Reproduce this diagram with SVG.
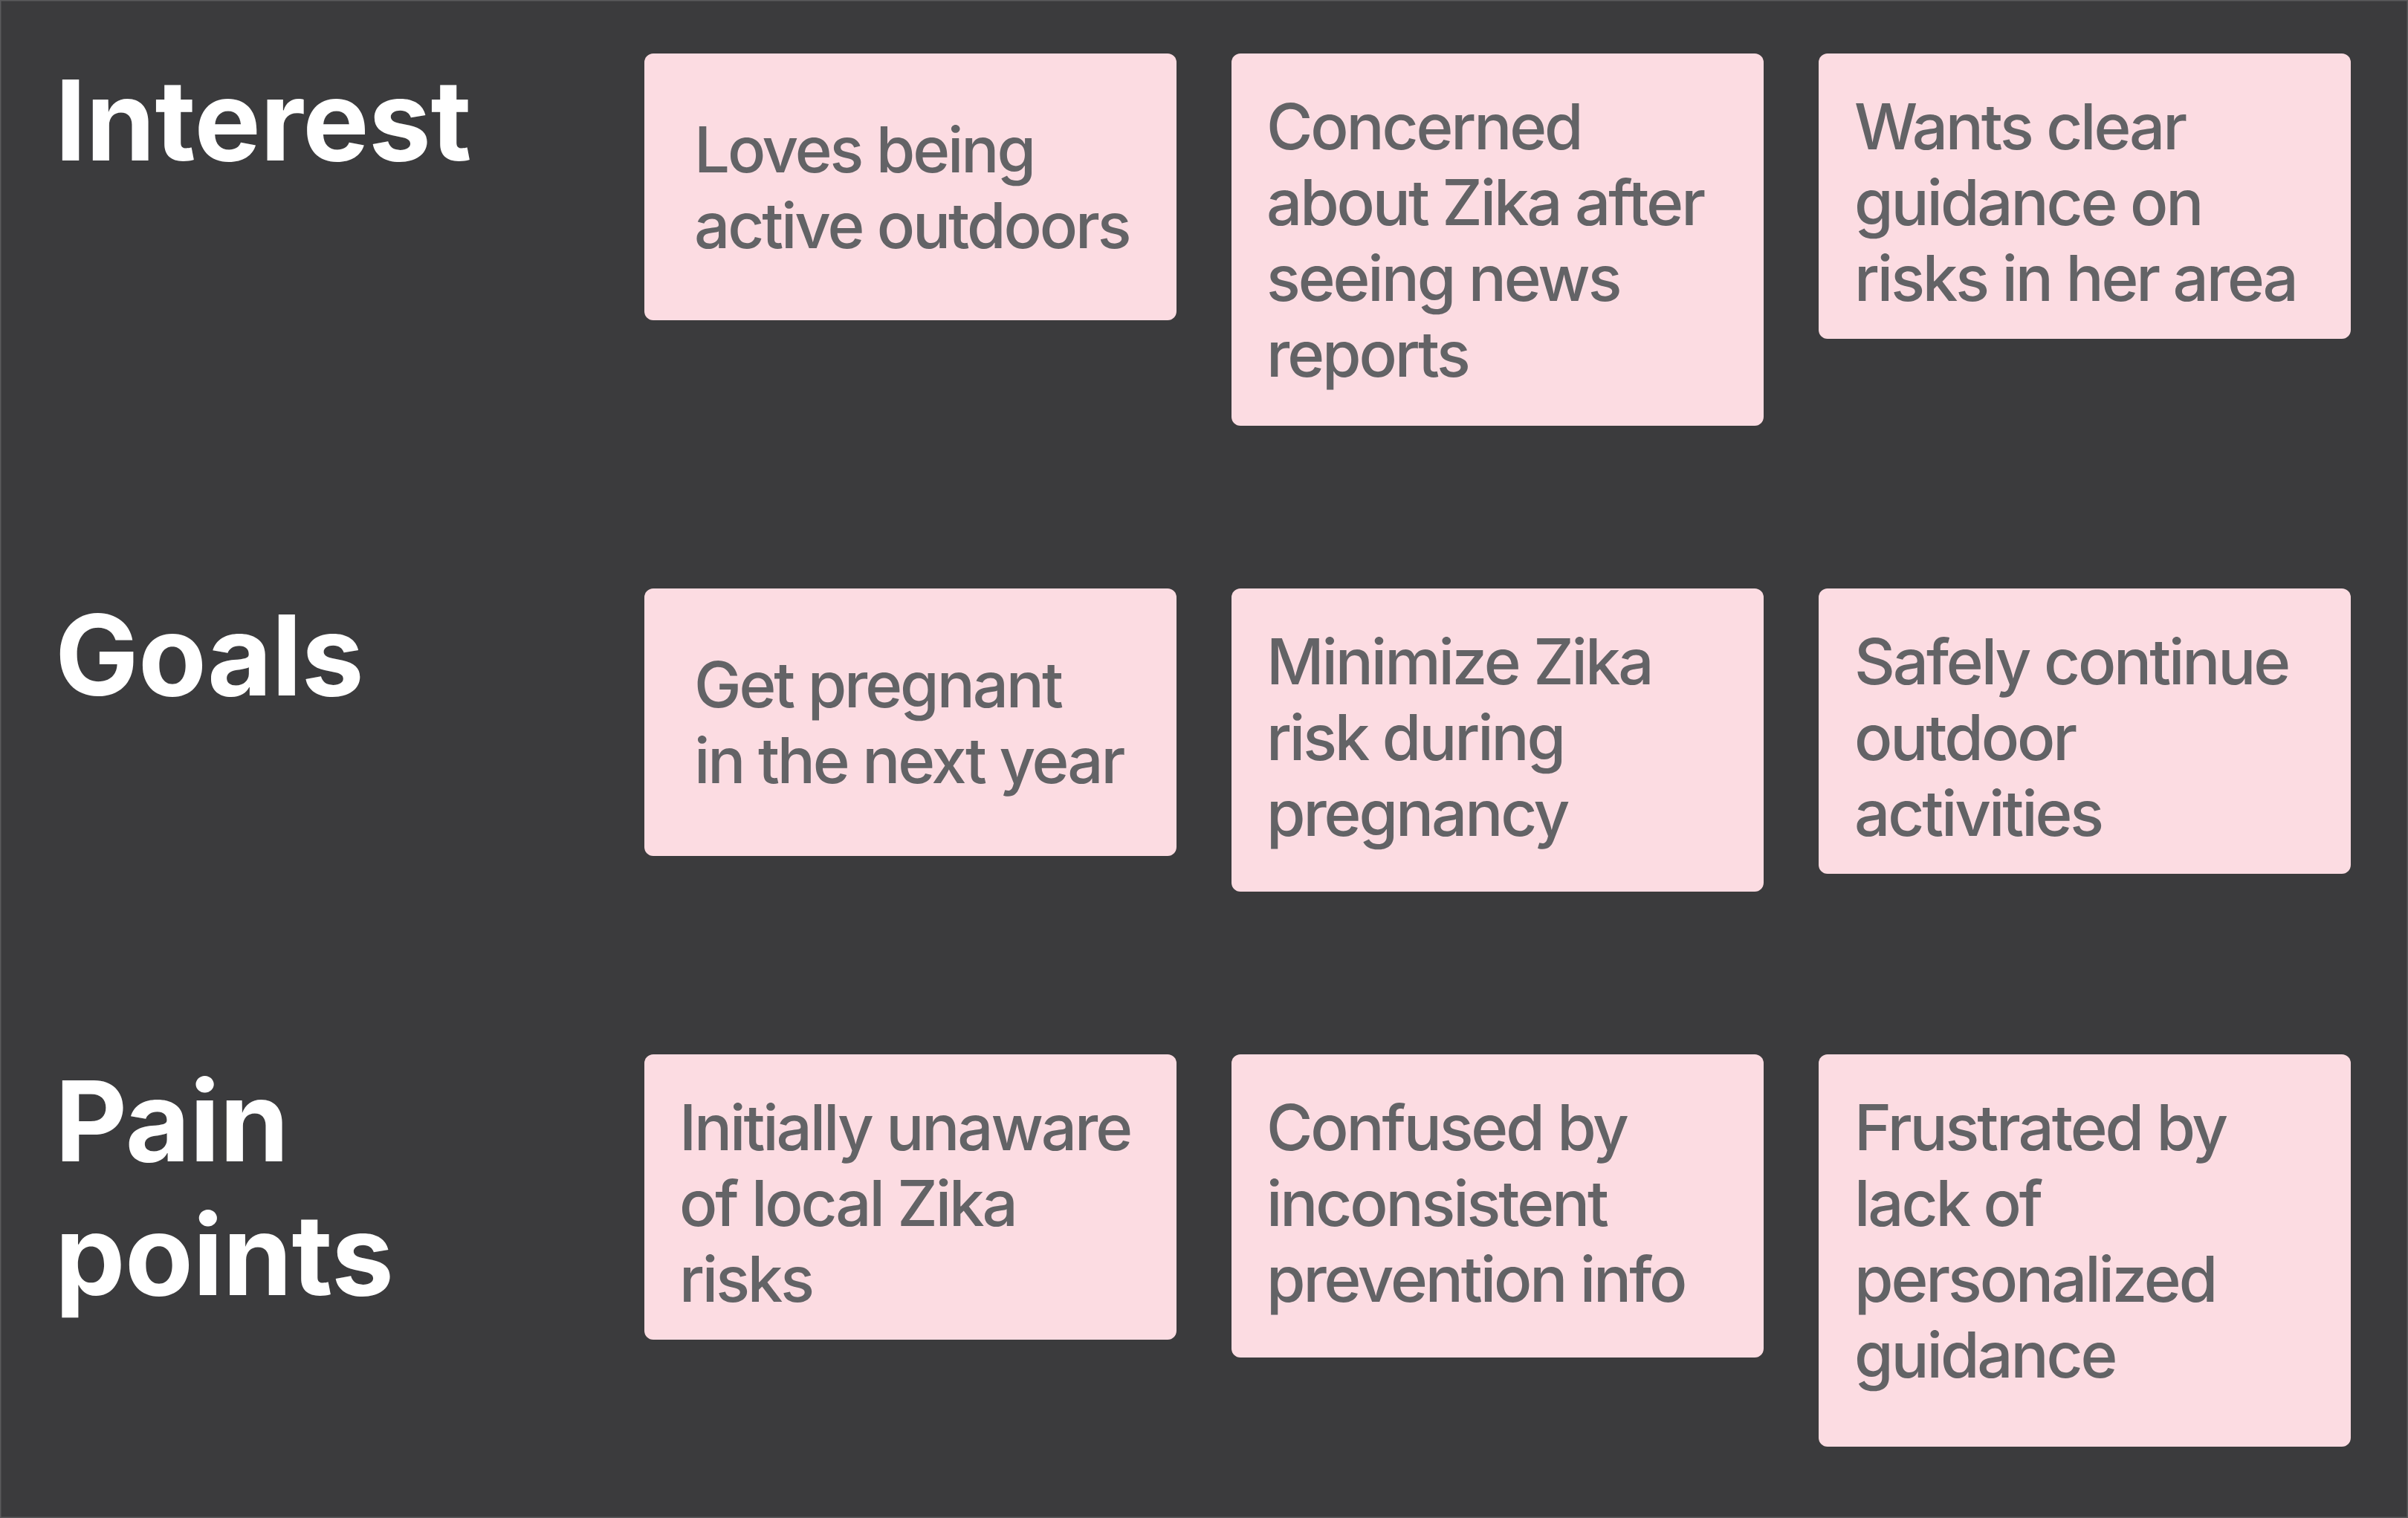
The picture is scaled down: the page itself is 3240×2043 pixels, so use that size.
<svg xmlns="http://www.w3.org/2000/svg" width="3240" height="2043" viewBox="0 0 3240 2043">
<style>
.bg{fill:#3b3b3d;stroke:#5a5a5c;stroke-width:3}
.h{font-family:Inter,"Liberation Sans",Arial,sans-serif;font-weight:700;font-size:150px;fill:#ffffff;letter-spacing:-0.5px}
.card{fill:#fcdce2}
.t{font-family:Inter,"Liberation Sans",Arial,sans-serif;font-weight:500;font-size:85px;fill:#636366;letter-spacing:-3.1px}
</style>
<rect class="bg" x="0" y="0" width="3240" height="2043"/>
<g id="headings">
<text id="h-interest" class="h" x="74" y="216">Interest</text>
<text id="h-goals" class="h" x="74" y="936">Goals</text>
<text id="h-pain" class="h" x="74" y="1563"><tspan x="74">Pain</tspan><tspan x="74" y="1743">points</tspan></text>
</g>
<g id="connectors"/>
<g id="n-loves">
<rect class="card" x="867" y="72" width="716" height="359" rx="12"/>
<text class="t" y="232"><tspan x="934">Loves being</tspan><tspan x="934" dy="102">active outdoors</tspan></text>
</g>
<g id="n-concerned">
<rect class="card" x="1657" y="72" width="716" height="501" rx="12"/>
<text class="t" y="201"><tspan x="1704">Concerned</tspan><tspan x="1704" dy="102">about Zika after</tspan><tspan x="1704" dy="102">seeing news</tspan><tspan x="1704" dy="102">reports</tspan></text>
</g>
<g id="n-wants">
<rect class="card" x="2447" y="72" width="716" height="384" rx="12"/>
<text class="t" y="201"><tspan x="2495">Wants clear</tspan><tspan x="2495" dy="102">guidance on</tspan><tspan x="2495" dy="102">risks in her area</tspan></text>
</g>
<g id="n-pregnant">
<rect class="card" x="867" y="792" width="716" height="360" rx="12"/>
<text class="t" y="952"><tspan x="934">Get pregnant</tspan><tspan x="934" dy="102">in the next year</tspan></text>
</g>
<g id="n-minimize">
<rect class="card" x="1657" y="792" width="716" height="408" rx="12"/>
<text class="t" y="921"><tspan x="1704">Minimize Zika</tspan><tspan x="1704" dy="102">risk during</tspan><tspan x="1704" dy="102">pregnancy</tspan></text>
</g>
<g id="n-safely">
<rect class="card" x="2447" y="792" width="716" height="384" rx="12"/>
<text class="t" y="921"><tspan x="2495">Safely continue</tspan><tspan x="2495" dy="102">outdoor</tspan><tspan x="2495" dy="102">activities</tspan></text>
</g>
<g id="n-unaware">
<rect class="card" x="867" y="1419" width="716" height="384" rx="12"/>
<text class="t" y="1548"><tspan x="914">Initially unaware</tspan><tspan x="914" dy="102">of local Zika</tspan><tspan x="914" dy="102">risks</tspan></text>
</g>
<g id="n-confused">
<rect class="card" x="1657" y="1419" width="716" height="408" rx="12"/>
<text class="t" y="1548"><tspan x="1704">Confused by</tspan><tspan x="1704" dy="102">inconsistent</tspan><tspan x="1704" dy="102">prevention info</tspan></text>
</g>
<g id="n-frustrated">
<rect class="card" x="2447" y="1419" width="716" height="528" rx="12"/>
<text class="t" y="1548"><tspan x="2495">Frustrated by</tspan><tspan x="2495" dy="102">lack of</tspan><tspan x="2495" dy="102">personalized</tspan><tspan x="2495" dy="102">guidance</tspan></text>
</g>
</svg>
